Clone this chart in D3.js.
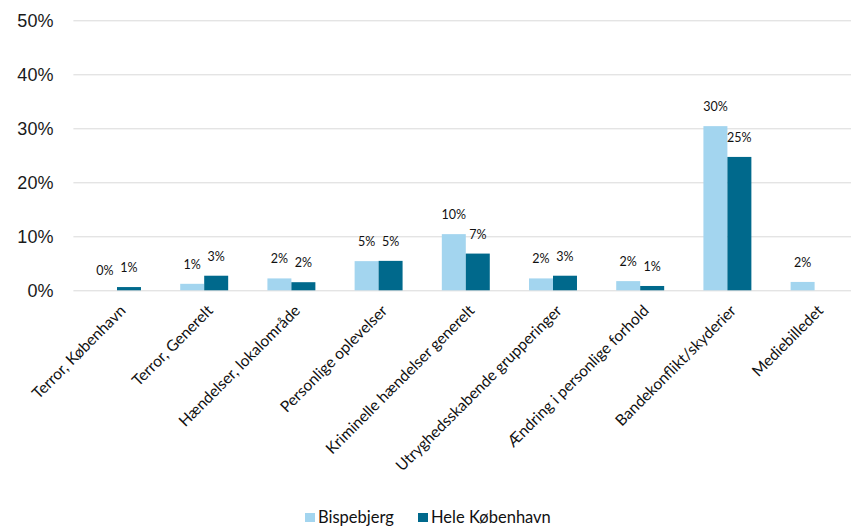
<!DOCTYPE html>
<html><head><meta charset="utf-8">
<script src="https://cdn.jsdelivr.net/npm/d3@7"></script>
<style>
html,body{margin:0;padding:0;background:#fff;}
svg{display:block;}
</style></head>
<body>
<svg id="chart" width="851" height="526"></svg>
<script>
const categories = ["Terror, København","Terror, Generelt","Hændelser, lokalområde","Personlige oplevelser","Kriminelle hændelser generelt","Utryghedsskabende grupperinger","Ændring i personlige forhold","Bandekonflikt/skyderier","Mediebilledet"];
const seriesNames = ["Bispebjerg","Hele København"];
const bispebjerg = [0, 1.2, 2.2, 5.4, 10.4, 2.2, 1.7, 30.4, 1.55];
const heleKbh = [0.6, 2.7, 1.5, 5.45, 6.8, 2.7, 0.8, 24.7, null];
const yTicks = [0, 10, 20, 30, 40, 50];
const colors = ["#A3D5EF", "#00698C"];

const svg = d3.select("#chart");
const y = d3.scaleLinear().domain([0, 50]).range([290.3, 20.3]);
const x0 = d3.scaleBand().domain(categories).range([73.4, 858.2]).paddingInner(0.45).paddingOuter(0.225);
const x1 = d3.scaleBand().domain(seriesNames).range([0, x0.bandwidth()]);
const color = d3.scaleOrdinal().domain(seriesNames).range(colors);

// gridlines
const yAxis = d3.axisLeft(y).tickValues(yTicks).tickSize(-(851 - 73.4)).tickFormat(d => d + "%").tickPadding(20);
const gy = svg.append("g").attr("transform", "translate(73.4,0)").call(yAxis);
gy.select(".domain").remove();
gy.selectAll(".tick line").attr("stroke", "#D9D9D9").attr("stroke-width", 1);
gy.selectAll(".tick text").attr("font-family", "'Liberation Sans', Arial, sans-serif").attr("font-size", 18).attr("fill", "#1a1a1a").attr("x", -20).attr("dy", "0.35em");

const data = categories.map((c, i) => ({cat: c, vals: [
  {s: seriesNames[0], v: bispebjerg[i]},
  {s: seriesNames[1], v: heleKbh[i]}
]}));

const groups = svg.append("g").selectAll("g").data(data).join("g")
  .attr("transform", d => `translate(${x0(d.cat)},0)`);

groups.selectAll("rect").data(d => d.vals.filter(e => e.v !== null)).join("rect")
  .attr("x", d => x1(d.s))
  .attr("width", x1.bandwidth())
  .attr("y", d => y(d.v))
  .attr("height", d => y(0) - y(d.v))
  .attr("fill", d => color(d.s));

groups.selectAll("text").data(d => d.vals.filter(e => e.v !== null)).join("text")
  .attr("x", d => x1(d.s) + x1.bandwidth() / 2)
  .attr("y", d => y(d.v) - 15)
  .attr("text-anchor", "middle")
  .attr("font-family", "Lato, 'Open Sans', sans-serif")
  .attr("font-size", 12.5)
  .attr("fill", "#111")
  .text(d => Math.round(d.v) + "%");

// x-axis labels
const xAxis = d3.axisBottom(x0).tickSize(0).tickPadding(0);
const gx = svg.append("g").attr("transform", "translate(2,304)").call(xAxis);
gx.select(".domain").remove();
gx.selectAll(".tick text")
  .attr("font-family", "Lato, 'Open Sans', sans-serif")
  .attr("font-size", 15.5)
  .attr("fill", "#111")
  .attr("text-anchor", "end")
  .attr("y", 0).attr("dy", "0.7em")
  .attr("transform", "rotate(-45)");

// legend
const legend = svg.append("g").attr("transform", "translate(305,513)");
const legX = [0, 113];
seriesNames.forEach((s, i) => {
  const g = legend.append("g").attr("transform", `translate(${legX[i]},0)`);
  g.append("rect").attr("width", 10).attr("height", 9).attr("fill", color(s));
  g.append("text").attr("x", 13).attr("y", 10).attr("font-family", "Lato, 'Open Sans', sans-serif")
    .attr("font-size", 16.5).attr("fill", "#111").text(s);
});
</script>
</body></html>
